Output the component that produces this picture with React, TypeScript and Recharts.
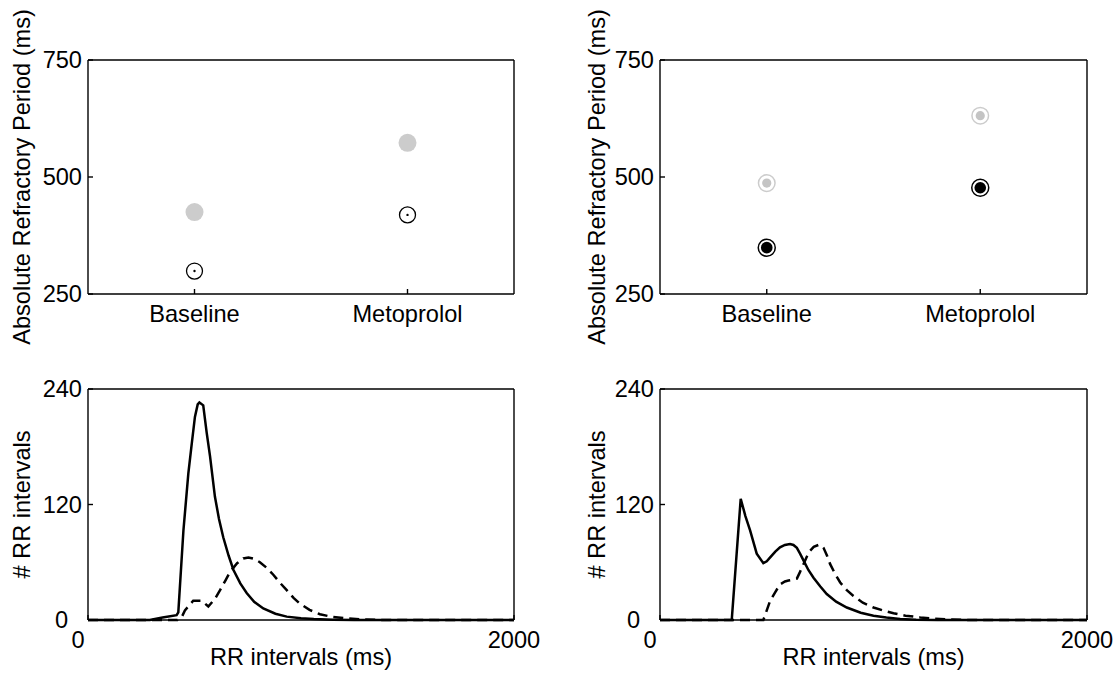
import React from 'react';
import { ScatterChart, Scatter, LineChart, Line, XAxis, YAxis } from 'recharts';

// ---------- data ----------
const categories = ['Baseline', 'Metoprolol'];
const arpTicks = [250, 500, 750];
const leftGrayArp = [425, 573];
const leftBlackArp = [299, 419];
const rightGrayArp = [487, 631];
const rightBlackArp = [349, 477];

const rrTicks = [0, 2000];
const countTicks = [0, 120, 240];

const leftSolidRR = [0, 290, 350, 416, 424, 448, 471, 487, 502, 515, 523, 541, 557, 573, 596, 615, 635, 660, 683, 715, 745, 780, 823, 880, 933, 1000, 1060, 1150, 1250, 2000];
const leftSolidN = [0, 0, 2.5, 5, 8, 93, 152, 183, 211, 224, 226, 223, 195, 170, 128, 105, 86, 67, 52, 38, 28, 19, 12, 6.5, 3.5, 1.8, 1, 0.3, 0, 0];
const leftDashedRR = [0, 420, 440, 455, 494, 534, 565, 596, 620, 645, 667, 700, 729, 753, 780, 807, 840, 870, 900, 933, 965, 995, 1040, 1089, 1140, 1199, 1293, 1400, 2000];
const leftDashedN = [0, 0, 3, 10, 20, 20, 14, 22, 31, 41, 50, 59, 64, 65, 63.5, 60, 54, 47, 39, 31, 23, 17, 10.5, 6, 3.5, 2, 0.5, 0, 0];

const rightSolidRR = [0, 336, 378, 400, 422, 453, 484, 500, 516, 540, 562, 585, 609, 625, 641, 656, 672, 695, 719, 750, 781, 825, 875, 940, 1000, 1060, 1125, 1200, 1300, 2000];
const rightSolidN = [0, 0, 126, 108, 93, 69, 59, 61, 65, 71, 75.5, 78, 79, 78, 75, 69, 62, 52, 44, 35, 27, 19, 13, 7.5, 4.5, 2.5, 1, 0.3, 0, 0];
const rightDashedRR = [0, 484, 500, 516, 540, 562, 585, 602, 625, 641, 656, 672, 688, 703, 720, 742, 756, 766, 782, 797, 820, 844, 875, 906, 950, 1000, 1050, 1094, 1150, 1219, 1280, 1344, 1450, 2000];
const rightDashedN = [0, 0, 10, 20, 29, 37, 40, 41, 42, 43, 50, 58, 66, 72, 76, 78, 77.5, 75, 67, 58, 48, 39, 31, 25, 18, 13, 9.5, 7, 4.5, 2.7, 1.5, 0.7, 0, 0];

// ---------- style ----------
const FONT = '"Liberation Sans", Arial, Helvetica, sans-serif';
const FS = 23.6;
const AXIS = { stroke: '#000', strokeWidth: 1.4 };
const GRAY = '#cccccc';

const toPoints = (vals: number[]) => vals.map((v, i) => ({ x: i + 1, y: v }));
const toSeries = (xs: number[], ys: number[]) => xs.map((x, i) => ({ rr: x, n: ys[i] }));

type Geo = { w: number; h: number; left: number; right: number; top: number; bottom: number; titleDx: number };

const marginsFor = (g: Geo) => ({
  top: g.top - 1,
  bottom: g.h - g.bottom - 40,
  left: g.left - 60,
  right: g.w - g.right - 1,
});

const YTick = (props: any) => {
  const { x, y, payload, zeroShift } = props;
  const shift = payload.value === 0 ? zeroShift || 0 : 0;
  return (
    <text x={x - 6 + shift} y={y} dy={8} textAnchor="end" fontFamily={FONT} fontSize={FS} fill="#000">
      {payload.value}
    </text>
  );
};

const XTick = (props: any) => {
  const { x, y, payload, labels, zeroShift } = props;
  const shift = payload.value === 0 ? zeroShift || 0 : 0;
  const label = labels ? labels[payload.value - 1] : payload.value;
  return (
    <text x={x + shift} y={y} dy={28} textAnchor="middle" fontFamily={FONT} fontSize={FS} fill="#000">
      {label}
    </text>
  );
};

const yTitle = (g: Geo, text: string) => () => {
  const cx = g.left - g.titleDx;
  const cy = (g.top + g.bottom) / 2;
  return (
    <text x={cx} y={cy} dy="0.35em" textAnchor="middle" transform={`rotate(-90 ${cx} ${cy})`} fontFamily={FONT} fontSize={FS} fill="#000">
      {text}
    </text>
  );
};

const xTitle = (g: Geo, text: string) => () => {
  const cx = (g.left + g.right) / 2;
  const cy = g.bottom + 37;
  return (
    <text x={cx} y={cy} dy="0.35em" textAnchor="middle" fontFamily={FONT} fontSize={FS} fill="#000">
      {text}
    </text>
  );
};

// marker shapes
const GrayDisc = (p: any) => <circle cx={p.cx} cy={p.cy} r={9} fill={GRAY} />;
const OpenDot = (p: any) => (
  <g>
    <circle cx={p.cx} cy={p.cy} r={8} fill="none" stroke="#000" strokeWidth={1.3} />
    <circle cx={p.cx} cy={p.cy} r={1.2} fill="#000" />
  </g>
);
const GrayRing = (p: any) => (
  <g>
    <circle cx={p.cx} cy={p.cy} r={8.3} fill="none" stroke={GRAY} strokeWidth={1.5} />
    <circle cx={p.cx} cy={p.cy} r={4.6} fill="#c4c4c4" />
  </g>
);
const BlackRing = (p: any) => (
  <g>
    <circle cx={p.cx} cy={p.cy} r={8.5} fill="none" stroke="#000" strokeWidth={1.5} />
    <circle cx={p.cx} cy={p.cy} r={5.8} fill="#000" />
  </g>
);

const TopPanel = ({ g, gray, black, GrayShape, BlackShape }: any) => (
  <ScatterChart width={g.w} height={g.h} margin={marginsFor(g)}>
    <XAxis
      xAxisId="b"
      type="number"
      dataKey="x"
      domain={[0.5, 2.5]}
      ticks={[1, 2]}
      interval={0}
      height={40}
      tickSize={-5}
      tickMargin={5}
      axisLine={AXIS}
      tickLine={AXIS}
      tick={(p: any) => <XTick {...p} labels={categories} />}
    />
    <XAxis xAxisId="t" orientation="top" type="number" dataKey="x" domain={[0.5, 2.5]} ticks={[1, 2]} interval={0} height={1} tickSize={-5} axisLine={AXIS} tickLine={AXIS} tick={false} />
    <YAxis
      yAxisId="l"
      type="number"
      dataKey="y"
      domain={[250, 750]}
      ticks={arpTicks}
      interval={0}
      width={60}
      tickSize={-5}
      tickMargin={5}
      axisLine={AXIS}
      tickLine={AXIS}
      tick={(p: any) => <YTick {...p} />}
      label={yTitle(g, 'Absolute Refractory Period (ms)')}
    />
    <YAxis yAxisId="r" orientation="right" type="number" dataKey="y" domain={[250, 750]} ticks={arpTicks} interval={0} width={1} tickSize={-5} axisLine={AXIS} tickLine={AXIS} tick={false} />
    <Scatter xAxisId="b" yAxisId="l" data={toPoints(gray)} shape={GrayShape} isAnimationActive={false} />
    <Scatter xAxisId="b" yAxisId="l" data={toPoints(black)} shape={BlackShape} isAnimationActive={false} />
  </ScatterChart>
);

const BottomPanel = ({ g, solid, dashed }: any) => (
  <LineChart width={g.w} height={g.h} margin={marginsFor(g)}>
    <XAxis
      xAxisId="b"
      type="number"
      dataKey="rr"
      domain={[0, 2000]}
      ticks={rrTicks}
      interval={0}
      height={40}
      tickSize={-5}
      tickMargin={5}
      axisLine={AXIS}
      tickLine={AXIS}
      tick={(p: any) => <XTick {...p} zeroShift={-10} />}
      label={xTitle(g, 'RR intervals (ms)')}
    />
    <XAxis xAxisId="t" orientation="top" type="number" dataKey="rr" domain={[0, 2000]} ticks={rrTicks} interval={0} height={1} tickSize={-5} axisLine={AXIS} tickLine={AXIS} tick={false} />
    <YAxis
      yAxisId="l"
      type="number"
      dataKey="n"
      domain={[0, 240]}
      ticks={countTicks}
      interval={0}
      width={60}
      tickSize={-5}
      tickMargin={5}
      axisLine={AXIS}
      tickLine={AXIS}
      tick={(p: any) => <YTick {...p} zeroShift={-14} />}
      label={yTitle(g, '# RR intervals')}
    />
    <YAxis yAxisId="r" orientation="right" type="number" dataKey="n" domain={[0, 240]} ticks={countTicks} interval={0} width={1} tickSize={-5} axisLine={AXIS} tickLine={AXIS} tick={false} />
    <Line xAxisId="b" yAxisId="l" data={dashed} dataKey="n" type="linear" stroke="#000" strokeWidth={2.5} strokeDasharray="10 6" dot={false} activeDot={false} isAnimationActive={false} />
    <Line xAxisId="b" yAxisId="l" data={solid} dataKey="n" type="linear" stroke="#000" strokeWidth={2.5} dot={false} activeDot={false} isAnimationActive={false} />
  </LineChart>
);

const TL: Geo = { w: 557, h: 365, left: 88, right: 514, top: 60, bottom: 294, titleDx: 66 };
const TR: Geo = { w: 558, h: 365, left: 103, right: 530, top: 60, bottom: 294, titleDx: 63 };
const BL: Geo = { w: 557, h: 339, left: 88, right: 514, top: 49, bottom: 280, titleDx: 66 };
const BR: Geo = { w: 558, h: 339, left: 103, right: 530, top: 49, bottom: 280, titleDx: 63 };

export default function App() {
  return (
    <div style={{ position: 'absolute', left: 0, top: 0, width: 1115, height: 679, background: '#fff', fontFamily: FONT }}>
      <div style={{ position: 'absolute', left: 0, top: 0 }}>
        <TopPanel g={TL} gray={leftGrayArp} black={leftBlackArp} GrayShape={GrayDisc} BlackShape={OpenDot} />
      </div>
      <div style={{ position: 'absolute', left: 557, top: 0 }}>
        <TopPanel g={TR} gray={rightGrayArp} black={rightBlackArp} GrayShape={GrayRing} BlackShape={BlackRing} />
      </div>
      <div style={{ position: 'absolute', left: 0, top: 340 }}>
        <BottomPanel g={BL} solid={toSeries(leftSolidRR, leftSolidN)} dashed={toSeries(leftDashedRR, leftDashedN)} />
      </div>
      <div style={{ position: 'absolute', left: 557, top: 340 }}>
        <BottomPanel g={BR} solid={toSeries(rightSolidRR, rightSolidN)} dashed={toSeries(rightDashedRR, rightDashedN)} />
      </div>
    </div>
  );
}
